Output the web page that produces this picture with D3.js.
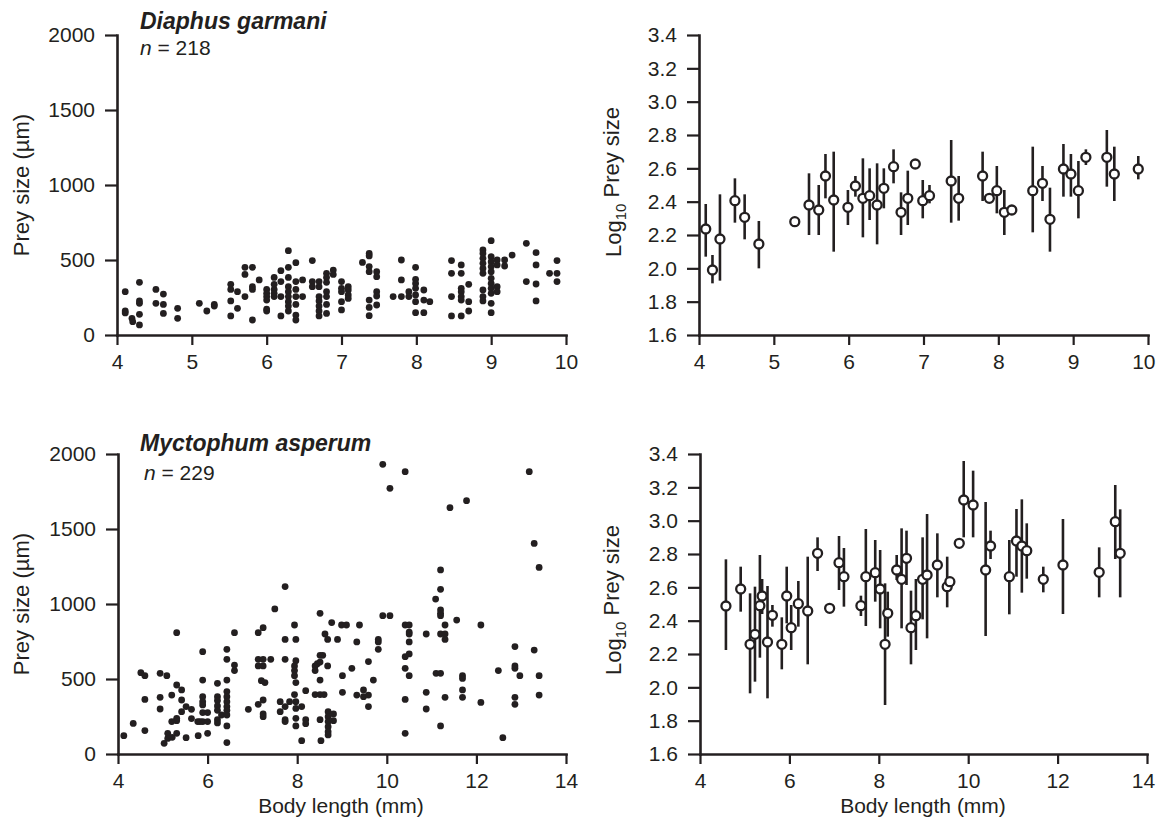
<!DOCTYPE html>
<html>
<head>
<meta charset="utf-8">
<script src="https://cdn.jsdelivr.net/npm/d3@7"></script>
<style>
  html, body { margin: 0; padding: 0; background: #fff; }
  svg { display: block; font-family: "Liberation Sans", Arial, Helvetica, sans-serif; }
  .axis .domain { stroke: #231f20; stroke-width: 2.6; stroke-linecap: square; }
  .axis .tick line { stroke: #231f20; stroke-width: 2.2; }
  .axis .tick text { fill: #231f20; font-size: 21px; }
</style>
</head>
<body>
<svg id="chart" width="1157" height="828"></svg>
<script>
// Diaphus garmani: individual prey items, [body length (mm), prey size (µm)]
const garmaniPrey = [
  [4.11,289],[4.11,160],[4.11,147],[4.2,111],[4.21,89],[4.3,351],[4.3,227],[4.3,211],[4.3,138],[4.3,67],
  [4.52,304],[4.52,211],[4.62,273],[4.62,204],[4.62,144],[4.81,178],[4.81,111],
  [5.1,211],[5.2,160],[5.3,204],[5.3,193],
  [5.52,338],[5.52,304],[5.52,227],[5.52,127],[5.61,289],[5.61,178],[5.71,451],[5.71,404],[5.71,256],
  [5.81,451],[5.81,322],[5.81,304],[5.81,100],[5.9,367],
  [6.0,304],[6.0,278],[6.0,256],[6.0,233],[6.0,173],[6.0,160],
  [6.1,384],[6.1,338],[6.1,304],[6.1,278],[6.1,256],
  [6.19,429],[6.19,356],[6.19,256],[6.19,127],
  [6.29,562],[6.29,451],[6.29,384],[6.29,322],[6.29,289],[6.29,256],[6.29,222],[6.29,193],[6.29,160],
  [6.39,482],[6.39,356],[6.39,304],[6.39,256],[6.39,204],[6.39,133],[6.39,100],
  [6.48,367],[6.48,256],
  [6.61,496],[6.61,356],[6.61,322],
  [6.7,356],[6.7,322],[6.7,256],[6.7,227],[6.7,193],[6.7,160],[6.7,127],
  [6.8,411],[6.8,384],[6.8,351],[6.8,289],[6.8,256],[6.8,204],[6.8,144],
  [6.89,433],[6.89,404],
  [7.0,356],[7.0,311],[7.0,289],[7.0,222],[7.0,167],
  [7.09,322],[7.09,300],[7.09,267],[7.09,244],
  [7.28,484],[7.37,544],[7.37,527],[7.37,456],[7.37,422],[7.37,233],[7.37,184],[7.37,129],
  [7.47,422],[7.47,389],[7.47,289],[7.47,260],[7.47,200],
  [7.69,256],[7.8,500],[7.8,367],[7.8,256],[7.9,289],[7.9,256],
  [7.99,451],[7.99,371],[7.99,344],[7.99,311],[7.99,267],[7.99,222],[7.99,149],
  [8.1,300],[8.1,233],[8.1,149],[8.18,222],
  [8.47,496],[8.47,411],[8.47,256],[8.47,127],
  [8.6,467],[8.6,411],[8.6,311],[8.6,289],[8.6,256],[8.6,233],[8.6,127],
  [8.7,338],[8.7,222],[8.7,160],
  [8.89,567],[8.89,544],[8.89,511],[8.89,478],[8.89,444],[8.89,411],[8.89,300],[8.89,256],[8.89,227],
  [9.0,629],[9.0,522],[9.0,489],[9.0,456],[9.0,422],[9.0,378],[9.0,344],[9.0,311],[9.0,278],[9.0,211],[9.0,149],
  [9.08,500],[9.08,467],[9.08,322],[9.08,289],
  [9.18,500],[9.18,460],[9.28,533],
  [9.47,611],[9.47,356],
  [9.6,549],[9.6,467],[9.6,340],[9.6,227],
  [9.78,411],[9.88,496],[9.88,411],[9.88,356]
];

// Diaphus garmani: per-length log10 prey size, [length, mean, low, high]
const garmaniLog = [
  [4.09,2.236,2.07,2.386],[4.18,1.99,1.91,2.08],[4.28,2.176,1.926,2.444],[4.48,2.406,2.274,2.54],
  [4.61,2.306,2.174,2.444],[4.8,2.146,2.0,2.284],[5.28,2.28,2.28,2.28],[5.47,2.38,2.2,2.57],
  [5.6,2.35,2.2,2.5],[5.69,2.554,2.42,2.686],[5.8,2.41,2.1,2.7],[5.99,2.366,2.26,2.47],
  [6.09,2.494,2.43,2.554],[6.19,2.42,2.186,2.66],[6.28,2.436,2.29,2.6],[6.38,2.38,2.144,2.63],
  [6.47,2.48,2.36,2.6],[6.6,2.61,2.51,2.714],[6.7,2.336,2.2,2.456],[6.79,2.42,2.26,2.586],
  [6.89,2.626,2.626,2.626],[6.99,2.406,2.3,2.53],[7.08,2.436,2.39,2.5],[7.37,2.524,2.274,2.77],
  [7.47,2.42,2.286,2.554],[7.79,2.554,2.404,2.7],[7.88,2.42,2.4,2.44],[7.98,2.466,2.33,2.614],
  [8.08,2.336,2.2,2.47],[8.18,2.35,2.35,2.35],[8.46,2.466,2.216,2.73],[8.59,2.51,2.404,2.614],
  [8.69,2.294,2.1,2.484],[8.87,2.596,2.43,2.746],[8.97,2.566,2.43,2.686],[9.07,2.466,2.3,2.644],
  [9.17,2.666,2.62,2.714],[9.45,2.666,2.49,2.83],[9.55,2.566,2.404,2.73],[9.87,2.596,2.534,2.674]
];

// Myctophum asperum: individual prey items, [body length (mm), prey size (µm)]
const asperumPrey = [
  [4.13,122],[4.34,204],[4.51,542],[4.6,522],[4.6,364],[4.6,156],[4.94,538],[4.94,378],[4.94,300],
  [5.09,522],[5.03,71],[5.11,138],[5.11,104],[5.21,111],[5.2,393],[5.31,809],[5.31,460],[5.31,222],
  [5.31,238],[5.42,427],[5.42,360],[5.2,216],[5.31,138],[5.42,282],[5.52,316],[5.52,109],[5.64,298],
  [5.64,236],[5.79,122],[5.78,216],[5.83,216],
  [5.89,682],[5.89,493],[5.89,382],[5.89,349],[5.89,327],[5.89,276],[5.89,216],[6.0,276],[6.0,216],[6.0,138],
  [6.22,471],[6.22,382],[6.22,356],[6.22,320],[6.22,291],[6.22,229],[6.22,207],[6.31,260],
  [6.43,698],[6.43,631],[6.43,493],[6.43,416],[6.43,382],[6.43,349],[6.43,316],[6.43,291],[6.43,260],
  [6.43,187],[6.43,76],
  [6.6,809],[6.6,593],[6.6,556],
  [6.91,298],[7.13,809],[7.24,842],[7.13,631],[7.13,587],[7.24,631],[7.24,587],[7.41,631],[7.2,489],
  [7.28,476],[7.13,331],[7.24,360],[7.24,267],[7.24,249],
  [7.5,967],[7.73,1116],[7.62,349],[7.62,282],[7.73,316],[7.73,229],[7.73,216],[7.73,631],[7.73,764],[7.83,349],
  [7.94,860],[7.97,764],[7.97,622],[7.94,587],[7.94,556],[7.94,522],[7.97,476],[7.94,396],[7.97,349],
  [7.97,304],[7.97,238],[7.97,187],
  [8.1,316],[8.1,89],[8.19,422],[8.19,229],[8.19,202],
  [8.4,587],[8.4,556],[8.45,602],[8.4,396],
  [8.51,938],[8.51,658],[8.57,658],[8.51,613],[8.51,493],[8.51,396],[8.6,396],[8.51,229],[8.53,89],
  [8.62,800],[8.68,764],[8.68,587],[8.77,876],
  [8.69,282],[8.69,249],[8.69,216],[8.69,182],[8.69,149],[8.69,127],[8.81,267],[8.81,222],
  [8.9,764],[8.99,860],[9.1,860],[9.39,860],[9.33,747],[9.01,522],[9.22,571],[9.01,411],[9.33,393],
  [9.48,427],[9.48,382],[9.59,393],[9.59,616],[9.59,316],[9.7,493],
  [9.81,764],[9.81,747],[9.81,698],[9.91,922],[10.07,922],[9.91,1931],[10.07,1771],[10.41,1882],
  [10.41,860],[10.5,860],[10.5,813],[10.5,800],[10.5,747],[10.5,667],[10.41,649],[10.41,571],[10.5,522],
  [10.41,364],[10.41,138],
  [10.88,800],[10.88,411],[10.88,300],[11.1,538],[11.2,538],[11.09,1033],[11.2,1227],[11.2,1098],
  [11.2,960],[11.2,938],[11.2,922],[11.2,800],[11.3,860],[11.3,800],[11.3,764],[11.2,187],[11.3,378],
  [11.41,1642],[11.78,1689],[11.56,893],[11.69,522],[11.69,504],[11.69,427],[11.69,378],
  [12.1,860],[12.1,344],[12.49,556],[12.59,109],
  [12.86,716],[12.86,587],[12.86,571],[12.97,522],[12.86,378],[12.86,331],
  [13.18,1882],[13.29,1404],[13.4,1244],[13.29,693],[13.4,522],[13.4,393]
];

// Myctophum asperum: per-length log10 prey size, [length, mean, low, high]
const asperumLog = [
  [4.58,2.488,2.224,2.768],[4.91,2.59,2.454,2.724],[5.12,2.258,1.964,2.564],[5.23,2.318,2.034,2.604],
  [5.34,2.49,2.178,2.794],[5.39,2.548,2.44,2.65],[5.51,2.272,1.934,2.608],[5.62,2.432,2.364,2.494],
  [5.83,2.258,2.108,2.42],[5.94,2.548,2.384,2.724],[6.04,2.358,2.224,2.494],[6.2,2.502,2.364,2.638],
  [6.41,2.458,2.138,2.784],[6.63,2.804,2.698,2.9],[6.9,2.474,2.474,2.474],[7.11,2.748,2.584,2.908],
  [7.22,2.664,2.484,2.836],[7.6,2.49,2.428,2.55],[7.71,2.664,2.368,2.95],[7.92,2.688,2.514,2.884],
  [8.03,2.59,2.354,2.824],[8.14,2.258,1.894,2.624],[8.2,2.444,2.304,2.574],[8.4,2.704,2.644,2.794],
  [8.51,2.648,2.354,2.954],[8.62,2.774,2.614,2.94],[8.72,2.358,2.138,2.58],[8.83,2.43,2.224,2.65],
  [8.98,2.648,2.408,2.9],[9.08,2.674,2.294,3.04],[9.31,2.734,2.54,2.924],[9.53,2.604,2.48,2.784],
  [9.59,2.634,2.634,2.634],[9.8,2.864,2.864,2.864],[9.9,3.124,2.9,3.358],[10.11,3.094,2.9,3.3],
  [10.39,2.704,2.308,3.112],[10.5,2.848,2.77,2.94],[10.92,2.664,2.438,2.884],[11.08,2.878,2.664,3.07],
  [11.2,2.848,2.568,3.128],[11.31,2.82,2.652,2.984],[11.68,2.648,2.57,2.724],[12.12,2.734,2.44,3.01],
  [12.93,2.69,2.54,2.84],[13.29,2.994,2.77,3.214],[13.4,2.804,2.54,3.068]
];

// Axis ticks
const preyTicks = [0, 500, 1000, 1500, 2000];
const logTicks = [1.6, 1.8, 2.0, 2.2, 2.4, 2.6, 2.8, 3.0, 3.2, 3.4];
const garmaniLengthTicks = [4, 5, 6, 7, 8, 9, 10];
const asperumLengthTicks = [4, 6, 8, 10, 12, 14];

const ink = "#231f20";
const svg = d3.select("#chart");
const pageWidth = +svg.attr("width");

function drawAxes(x, y, xTicks, yTicks, yFormat) {
  const g = svg.append("g");
  const gx = g.append("g").attr("class", "axis")
    .attr("transform", `translate(0,${y.range()[0]})`)
    .call(d3.axisBottom(x).tickValues(xTicks).tickSize(10).tickSizeOuter(0).tickPadding(9).tickFormat(d3.format("d")));
  // keep the last tick label inside the page
  gx.selectAll(".tick text").each(function () {
    const box = this.getBBox();
    const tx = x(+d3.select(this.parentNode).datum());
    const overflow = tx + box.x + box.width - (pageWidth - 2);
    if (overflow > 0) d3.select(this).attr("x", -overflow);
  });
  g.append("g").attr("class", "axis")
    .attr("transform", `translate(${x.range()[0]},0)`)
    .call(d3.axisLeft(y).tickValues(yTicks).tickSize(12).tickSizeOuter(0).tickPadding(10).tickFormat(yFormat));
  return g;
}

function scatterPanel(data, x, y) {
  svg.append("g").selectAll("circle").data(data).join("circle")
    .attr("cx", d => x(d[0])).attr("cy", d => y(d[1]))
    .attr("r", 3.4).attr("fill", ink);
}

function errorPanel(data, x, y) {
  const g = svg.append("g");
  g.selectAll("line").data(data.filter(d => d[3] > d[2])).join("line")
    .attr("x1", d => x(d[0])).attr("x2", d => x(d[0]))
    .attr("y1", d => y(d[2])).attr("y2", d => y(d[3]))
    .attr("stroke", ink).attr("stroke-width", 2.6);
  g.selectAll("circle").data(data).join("circle")
    .attr("cx", d => x(d[0])).attr("cy", d => y(d[1]))
    .attr("r", 4.5).attr("fill", "#fff").attr("stroke", ink).attr("stroke-width", 2.3);
}

function yTitle(cx, cy, logLabel) {
  const t = svg.append("text")
    .attr("transform", `translate(${cx},${cy}) rotate(-90)`)
    .attr("text-anchor", "middle").attr("fill", ink).attr("font-size", 22);
  if (logLabel) {
    t.append("tspan").text("Log");
    t.append("tspan").attr("font-size", 15).attr("dy", "0.3em").text("10");
    t.append("tspan").attr("dy", "-0.3em").text(" Prey size");
  } else {
    t.text("Prey size (µm)");
  }
}

function speciesLabel(x, yName, xN, yN, name, n) {
  svg.append("text").attr("x", x).attr("y", yName)
    .attr("font-size", 23).attr("font-weight", "bold").attr("font-style", "italic")
    .attr("fill", ink).text(name);
  const t = svg.append("text").attr("x", xN).attr("y", yN)
    .attr("font-size", 21).attr("fill", ink);
  t.append("tspan").attr("font-style", "italic").text("n");
  t.append("tspan").text(" = " + n);
}

// Top row: Diaphus garmani
const x1 = d3.scaleLinear().domain([4, 10]).range([117, 566]);
const y1 = d3.scaleLinear().domain([0, 2000]).range([335, 35]);
drawAxes(x1, y1, garmaniLengthTicks, preyTicks, d3.format("d"));
scatterPanel(garmaniPrey, x1, y1);

const x2 = d3.scaleLinear().domain([4, 10]).range([699, 1148]);
const y2 = d3.scaleLinear().domain([1.6, 3.4]).range([335, 35]);
drawAxes(x2, y2, garmaniLengthTicks, logTicks, d3.format(".1f"));
errorPanel(garmaniLog, x2, y2);

// Bottom row: Myctophum asperum
const x3 = d3.scaleLinear().domain([4, 14]).range([118, 566]);
const y3 = d3.scaleLinear().domain([0, 2000]).range([754, 454]);
drawAxes(x3, y3, asperumLengthTicks, preyTicks, d3.format("d"));
scatterPanel(asperumPrey, x3, y3);

const x4 = d3.scaleLinear().domain([4, 14]).range([700, 1147]);
const y4 = d3.scaleLinear().domain([1.6, 3.4]).range([754, 454]);
drawAxes(x4, y4, asperumLengthTicks, logTicks, d3.format(".1f"));
errorPanel(asperumLog, x4, y4);

// Species labels and axis titles
speciesLabel(140, 29, 140, 55, "Diaphus garmani", 218);
speciesLabel(140, 451, 144, 480, "Myctophum asperum", 229);

yTitle(29, 185, false);
yTitle(29, 604, false);
yTitle(621, 182, true);
yTitle(621, 600, true);

svg.append("text").attr("x", 341).attr("y", 813).attr("text-anchor", "middle")
  .attr("font-size", 21).attr("fill", ink).text("Body length (mm)");
svg.append("text").attr("x", 923).attr("y", 813).attr("text-anchor", "middle")
  .attr("font-size", 21).attr("fill", ink).text("Body length (mm)");
</script>
</body>
</html>
